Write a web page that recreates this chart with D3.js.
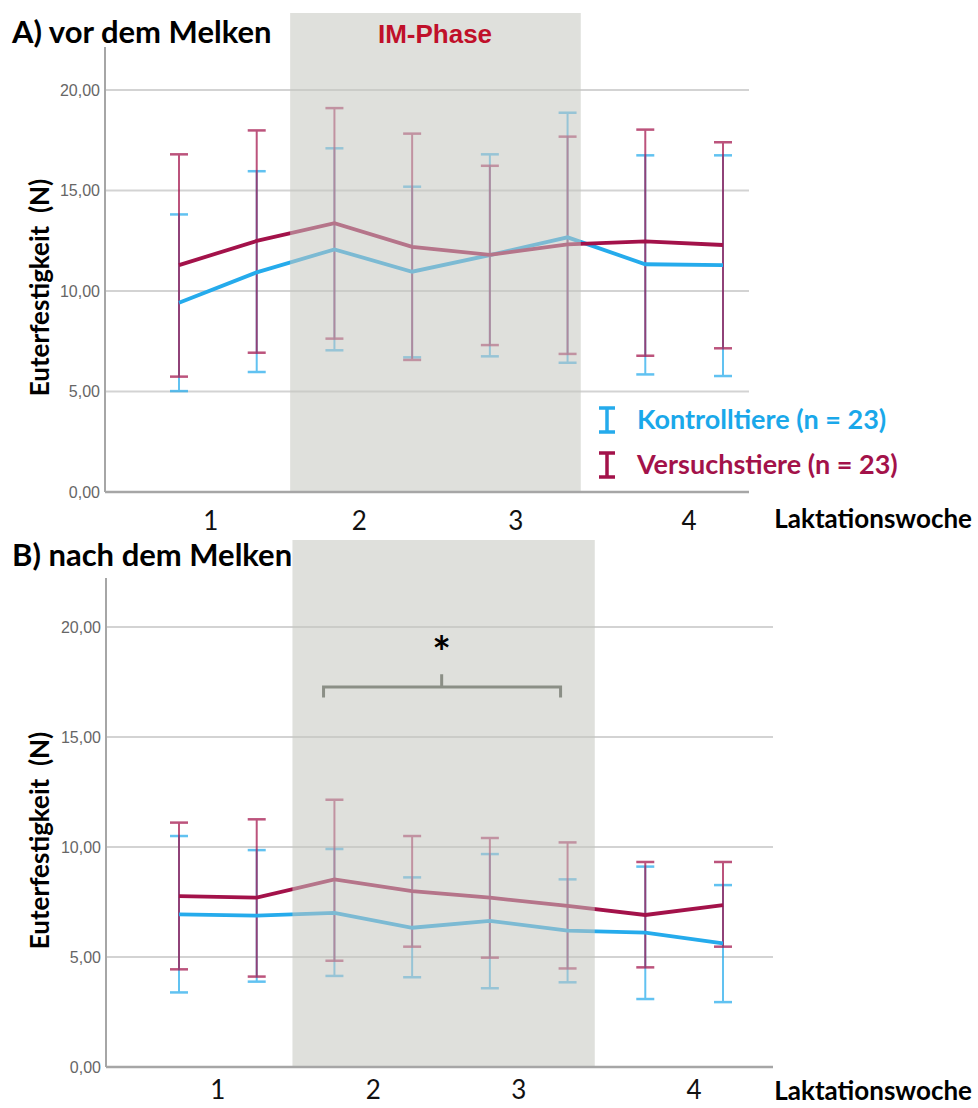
<!DOCTYPE html>
<html>
<head>
<meta charset="utf-8">
<script src="https://cdn.jsdelivr.net/npm/d3@7"></script>
<style>
  body { margin: 0; background: #fff; }
  svg text { font-family: Lato, "Open Sans", sans-serif; }
</style>
</head>
<body>
<div id="chart"></div>
<script>
// two measurements per lactation week
var weeks = ['1', '2', '3', '4'];
var points = d3.range(8);

// A) vor dem Melken
var kontrollMeanA = [9.42, 10.93, 12.07, 10.96, 11.79, 12.67, 11.33, 11.29];
var kontrollLoA   = [5.02, 5.97, 7.05, 6.70, 6.75, 6.43, 5.85, 5.77];
var kontrollHiA   = [13.81, 15.96, 17.10, 15.19, 16.80, 18.87, 16.75, 16.75];
var versuchMeanA  = [11.29, 12.49, 13.37, 12.20, 11.80, 12.32, 12.47, 12.29];
var versuchLoA    = [5.74, 6.93, 7.63, 6.57, 7.31, 6.87, 6.78, 7.15];
var versuchHiA    = [16.80, 17.99, 19.10, 17.83, 16.23, 17.68, 18.03, 17.40];

// B) nach dem Melken
var kontrollMeanB = [6.94, 6.88, 7.01, 6.33, 6.64, 6.20, 6.11, 5.62];
var kontrollLoB   = [3.39, 3.88, 4.14, 4.08, 3.58, 3.85, 3.09, 2.95];
var kontrollHiB   = [10.50, 9.86, 9.91, 8.62, 9.68, 8.53, 9.11, 8.27];
var versuchMeanB  = [7.77, 7.70, 8.53, 8.00, 7.70, 7.32, 6.91, 7.36];
var versuchLoB    = [4.44, 4.11, 4.83, 5.47, 4.97, 4.48, 4.53, 5.47];
var versuchHiB    = [11.11, 11.26, 12.15, 10.50, 10.41, 10.21, 9.32, 9.32];

var yTicks = [0, 5, 10, 15, 20];
var legendLabels = ['Kontrolltiere (n = 23)', 'Versuchstiere (n = 23)'];

var blue = '#25abec',
    red = '#a3124a',
    width = 978,
    height = 1108;

var svg = d3.select('#chart').append('svg')
    .attr('width', width)
    .attr('height', height);

var fmt = function (v) { return d3.format('.2f')(v).replace('.', ','); };

function drawPanel(opt) {
  var x = d3.scaleLinear().domain([0, 7]).range([179, 723]);
  var y = d3.scaleLinear().domain([0, opt.yMax]).range([opt.bottom, opt.top]);
  var g = svg.append('g');

  // grid
  g.selectAll('line.grid')
    .data(yTicks.slice(1))
    .enter().append('line')
      .attr('x1', opt.left).attr('x2', opt.right)
      .attr('y1', function (d) { return y(d); })
      .attr('y2', function (d) { return y(d); })
      .attr('stroke', '#d3d3d3')
      .attr('stroke-width', 2);

  // series
  var series = [
    { color: blue, mean: opt.kMean, lo: opt.kLo, hi: opt.kHi },
    { color: red, mean: opt.vMean, lo: opt.vLo, hi: opt.vHi }
  ];
  series.forEach(function (s) {
    var eb = g.append('g').attr('opacity', 0.72);
    eb.selectAll('line.bar')
      .data(points)
      .enter().append('line')
        .attr('x1', function (i) { return x(i); })
        .attr('x2', function (i) { return x(i); })
        .attr('y1', function (i) { return y(s.lo[i]); })
        .attr('y2', function (i) { return y(s.hi[i]); })
        .attr('stroke', s.color).attr('stroke-width', 2);
    [s.lo, s.hi].forEach(function (arr) {
      eb.selectAll(null)
        .data(points)
        .enter().append('line')
          .attr('x1', function (i) { return x(i) - 9; })
          .attr('x2', function (i) { return x(i) + 9; })
          .attr('y1', function (i) { return y(arr[i]); })
          .attr('y2', function (i) { return y(arr[i]); })
          .attr('stroke', s.color).attr('stroke-width', 2.5);
    });
  });
  series.forEach(function (s) {
    g.append('path')
      .datum(points)
      .attr('fill', 'none')
      .attr('stroke', s.color)
      .attr('stroke-width', 3.8)
      .attr('d', d3.line()
        .x(function (i) { return x(i); })
        .y(function (i) { return y(s.mean[i]); }));
  });

  // IM-Phase shading on top
  g.append('rect')
    .attr('x', x(opt.shade[0]))
    .attr('width', x(opt.shade[1]) - x(opt.shade[0]))
    .attr('y', opt.shadeTop)
    .attr('height', opt.bottom - opt.shadeTop)
    .attr('fill', 'rgb(197,199,191)')
    .attr('fill-opacity', 0.55);

  // axes
  g.append('line')
    .attr('x1', opt.left).attr('x2', opt.left)
    .attr('y1', opt.top).attr('y2', opt.bottom)
    .attr('stroke', '#a6a6a6').attr('stroke-width', 2);
  g.append('line')
    .attr('x1', opt.left).attr('x2', opt.right)
    .attr('y1', opt.bottom).attr('y2', opt.bottom)
    .attr('stroke', '#a6a6a6').attr('stroke-width', 2.5);

  g.selectAll('text.ytick')
    .data(yTicks)
    .enter().append('text')
      .attr('x', opt.left - 5)
      .attr('y', function (d) { return y(d); })
      .attr('dy', '0.35em')
      .attr('text-anchor', 'end')
      .style('font-family', '"Liberation Sans", Arial, sans-serif')
      .style('font-size', '16px')
      .attr('fill', '#666')
      .text(fmt);

  g.selectAll('text.week')
    .data(weeks)
    .enter().append('text')
      .attr('x', function (d, i) { return (x(2 * i) + x(2 * i + 1)) / 2 + opt.weekShift[i]; })
      .attr('y', opt.bottom + opt.weekDy)
      .attr('text-anchor', 'middle')
      .style('font-size', '26px')
      .attr('fill', '#111')
      .text(function (d) { return d; });

  g.append('text')
    .attr('x', 972).attr('y', opt.bottom + opt.lakDy)
    .attr('text-anchor', 'end')
    .style('font-size', '26px').style('font-weight', 'bold')
    .text('Laktationswoche');

  g.append('text')
    .attr('transform', 'translate(49,' + ((opt.top + opt.bottom) / 2 + 18) + ') rotate(-90)')
    .attr('text-anchor', 'middle')
    .style('font-size', '26px').style('font-weight', 'bold')
    .style('white-space', 'pre')
    .text('Euterfestigkeit  (N)');

  g.append('text')
    .attr('x', 12).attr('y', opt.titleY)
    .style('font-size', '31px').style('font-weight', 'bold')
    .text(opt.title);

  return { x: x, y: y, g: g };
}

var pA = drawPanel({
  title: 'A) vor dem Melken', titleY: 43,
  left: 105, right: 749, top: 47, bottom: 492, yMax: 22.14,
  shade: [1.43, 5.17], shadeTop: 13,
  weekShift: [-7, -14, -13, 5], weekDy: 38, lakDy: 36,
  kMean: kontrollMeanA, kLo: kontrollLoA, kHi: kontrollHiA,
  vMean: versuchMeanA, vLo: versuchLoA, vHi: versuchHiA
});

pA.g.append('text')
  .attr('x', 435).attr('y', 43)
  .attr('text-anchor', 'middle')
  .style('font-family', '"Liberation Sans", Arial, sans-serif')
  .style('font-size', '26px').style('font-weight', 'bold')
  .attr('fill', '#c0102a')
  .text('IM-Phase');

// legend
var legend = pA.g.selectAll('g.legend')
  .data(legendLabels)
  .enter().append('g')
    .attr('transform', function (d, i) { return 'translate(599,' + (420 + i * 45) + ')'; });
legend.append('path')
  .attr('d', 'M0,-12H16M8,-12V12M0,12H16')
  .attr('fill', 'none')
  .attr('stroke', function (d, i) { return i ? red : blue; })
  .attr('stroke-width', 3.5);
legend.append('text')
  .attr('x', 38).attr('dy', '0.35em')
  .style('font-size', '27px').style('font-weight', 'bold')
  .attr('fill', function (d, i) { return i ? red : '#1aa8ea'; })
  .text(function (d) { return d; });

var pB = drawPanel({
  title: 'B) nach dem Melken', titleY: 566,
  left: 106, right: 773, top: 578, bottom: 1067, yMax: 22.23,
  shade: [1.46, 5.35], shadeTop: 540,
  weekShift: [0, 0, -10, 10], weekDy: 32, lakDy: 33,
  kMean: kontrollMeanB, kLo: kontrollLoB, kHi: kontrollHiB,
  vMean: versuchMeanB, vLo: versuchLoB, vHi: versuchHiB
});

// significance bracket over the IM phase
var bx = pB.x, by = pB.y;
var bracket = d3.path();
bracket.moveTo(bx(1.86), by(16.8));
bracket.lineTo(bx(1.86), by(17.27));
bracket.lineTo(bx(4.91), by(17.27));
bracket.lineTo(bx(4.91), by(16.8));
bracket.moveTo(bx(3.38), by(17.27));
bracket.lineTo(bx(3.38), by(17.86));
pB.g.append('path')
  .attr('d', bracket.toString())
  .attr('fill', 'none')
  .attr('stroke', '#8b8f86')
  .attr('stroke-width', 3);
pB.g.append('text')
  .attr('x', bx(3.38)).attr('y', by(18.15))
  .attr('text-anchor', 'middle')
  .style('font-size', '44px').style('font-weight', 'bold')
  .text('*');
</script>
</body>
</html>
